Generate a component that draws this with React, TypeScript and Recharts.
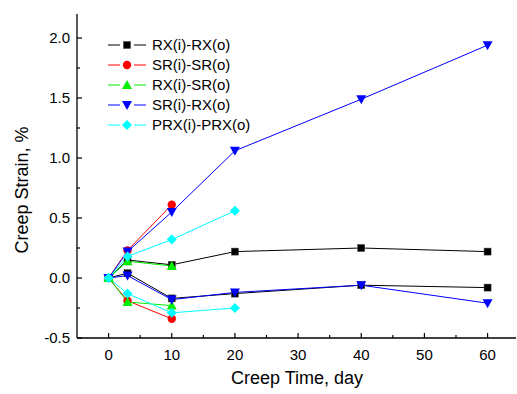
import { LineChart, Line, XAxis, YAxis } from "recharts";

const DAYS_ALL = [0, 3, 10, 20, 40, 60];
const DAYS_10 = [0, 3, 10];
const DAYS_20 = [0, 3, 10, 20];

const rxrxUp = [0, 0.15, 0.11, 0.22, 0.25, 0.22];
const rxrxDown = [0, 0.04, -0.17, -0.13, -0.06, -0.08];
const srsrUp = [0, 0.23, 0.61];
const srsrDown = [0, -0.19, -0.34];
const rxsrUp = [0, 0.14, 0.1];
const rxsrDown = [0, -0.2, -0.23];
const srrxUp = [0, 0.22, 0.55, 1.06, 1.49, 1.94];
const srrxDown = [0, 0.02, -0.18, -0.12, -0.06, -0.21];
const prxUp = [0, 0.18, 0.32, 0.56];
const prxDown = [0, -0.13, -0.29, -0.25];

const X_TICKS = [0, 5, 10, 15, 20, 25, 30, 35, 40, 45, 50, 55, 60];
const Y_TICKS = [-0.5, -0.25, 0, 0.25, 0.5, 0.75, 1, 1.25, 1.5, 1.75, 2];

const PLOT_LEFT = 77;
const PLOT_RIGHT = 516;
const PLOT_TOP = 14;
const PLOT_BOTTOM = 338;
const FONT = "'Liberation Sans', Arial, sans-serif";

const toPoints = (days: number[], vals: number[]) =>
  days.map((d, i) => ({ d, v: vals[i] }));

const series = [
  { name: "RX(i)-RX(o)", color: "#000000", shape: "square", up: toPoints(DAYS_ALL, rxrxUp), down: toPoints(DAYS_ALL, rxrxDown) },
  { name: "SR(i)-SR(o)", color: "#ff0000", shape: "circle", up: toPoints(DAYS_10, srsrUp), down: toPoints(DAYS_10, srsrDown) },
  { name: "RX(i)-SR(o)", color: "#00ee00", shape: "triUp", up: toPoints(DAYS_10, rxsrUp), down: toPoints(DAYS_10, rxsrDown) },
  { name: "SR(i)-RX(o)", color: "#0000ff", shape: "triDown", up: toPoints(DAYS_ALL, srrxUp), down: toPoints(DAYS_ALL, srrxDown) },
  { name: "PRX(i)-PRX(o)", color: "#00ffff", shape: "diamond", up: toPoints(DAYS_20, prxUp), down: toPoints(DAYS_20, prxDown) },
];

const Marker = ({ shape, color, cx, cy }: any) => {
  if (cx == null || cy == null) return null;
  if (shape === "square")
    return <rect x={cx - 3.5} y={cy - 3.5} width={7} height={7} fill={color} stroke="#444" strokeWidth={0.5} />;
  if (shape === "circle") return <circle cx={cx} cy={cy} r={4.2} fill={color} />;
  if (shape === "triUp")
    return <polygon points={`${cx},${cy - 5} ${cx - 5},${cy + 4} ${cx + 5},${cy + 4}`} fill={color} />;
  if (shape === "triDown")
    return <polygon points={`${cx},${cy + 5} ${cx - 5},${cy - 4} ${cx + 5},${cy - 4}`} fill={color} />;
  return <polygon points={`${cx},${cy - 5} ${cx + 5},${cy} ${cx},${cy + 5} ${cx - 5},${cy}`} fill={color} />;
};

const BottomTick = ({ x, payload }: any) => {
  const major = payload.value % 10 === 0;
  return (
    <g>
      <line x1={x} x2={x} y1={PLOT_BOTTOM} y2={PLOT_BOTTOM - (major ? 5 : 3)} stroke="#000" strokeWidth={1.2} />
      {major && (
        <text x={x} y={PLOT_BOTTOM + 22} textAnchor="middle" fontSize={15} fontFamily={FONT} fill="#000">
          {payload.value}
        </text>
      )}
    </g>
  );
};

const TopTick = ({ x, payload }: any) => {
  const major = payload.value % 10 === 0;
  return <line x1={x} x2={x} y1={PLOT_TOP} y2={PLOT_TOP + (major ? 5 : 3)} stroke="#000" strokeWidth={1.2} />;
};

const LeftTick = ({ y, payload }: any) => {
  const major = Math.abs((payload.value * 2) % 1) < 1e-6;
  return (
    <g>
      <line x1={PLOT_LEFT} x2={PLOT_LEFT + (major ? 5 : 3)} y1={y} y2={y} stroke="#000" strokeWidth={1.2} />
      {major && (
        <text x={70} y={y + 5} textAnchor="end" fontSize={15} fontFamily={FONT} fill="#000">
          {payload.value.toFixed(1)}
        </text>
      )}
    </g>
  );
};

const RightTick = ({ y, payload }: any) => {
  const major = Math.abs((payload.value * 2) % 1) < 1e-6;
  return <line x1={PLOT_RIGHT} x2={PLOT_RIGHT - (major ? 5 : 3)} y1={y} y2={y} stroke="#000" strokeWidth={1.2} />;
};

const LegendBox = () => (
  <svg width={160} height={110} style={{ position: "absolute", left: 100, top: 33 }}>
    {series.map((s, i) => {
      const cy = 12 + i * 20;
      return (
        <g key={s.name}>
          <line x1={8} x2={20} y1={cy} y2={cy} stroke={s.color} strokeWidth={1} />
          <line x1={34} x2={46} y1={cy} y2={cy} stroke={s.color} strokeWidth={1} />
          <Marker shape={s.shape} color={s.color} cx={27} cy={cy} />
          <text x={52} y={cy + 5} fontSize={15} fontFamily={FONT} fill="#000">
            {s.name}
          </text>
        </g>
      );
    })}
  </svg>
);

export default function App() {
  return (
    <div style={{ position: "absolute", left: 0, top: 0, width: 517, height: 394, background: "#fff" }}>
      <LineChart width={517} height={394} margin={{ top: PLOT_TOP, right: 1, bottom: 0, left: 0 }}>
        <XAxis
          dataKey="d"
          type="number"
          domain={[-5, 64.5]}
          ticks={X_TICKS}
          interval={0}
          height={56}
          tickLine={false}
          tick={<BottomTick />}
          axisLine={{ stroke: "#000", strokeWidth: 1.3 }}
          allowDataOverflow
        />
        <XAxis
          xAxisId="top"
          orientation="top"
          dataKey="d"
          type="number"
          domain={[-5, 64.5]}
          ticks={X_TICKS}
          interval={0}
          height={0}
          tickLine={false}
          tick={<TopTick />}
          axisLine={{ stroke: "#000", strokeWidth: 1.3 }}
          allowDataOverflow
        />
        <YAxis
          type="number"
          domain={[-0.5, 2.2]}
          ticks={Y_TICKS}
          interval={0}
          width={77}
          tickLine={false}
          tick={<LeftTick />}
          axisLine={{ stroke: "#000", strokeWidth: 1.3 }}
          allowDataOverflow
        />
        <YAxis
          yAxisId="right"
          orientation="right"
          type="number"
          domain={[-0.5, 2.2]}
          ticks={Y_TICKS}
          interval={0}
          width={0}
          tickLine={false}
          tick={<RightTick />}
          axisLine={{ stroke: "#000", strokeWidth: 1.3 }}
          allowDataOverflow
        />
        {series.flatMap((s) =>
          [s.up, s.down].map((pts, j) => (
            <Line
              key={`${s.name}-${j}`}
              data={pts}
              dataKey="v"
              type="linear"
              stroke={s.color}
              strokeWidth={1}
              dot={(p: any) => <Marker key={`${s.name}-${j}-${p.index}`} shape={s.shape} color={s.color} cx={p.cx} cy={p.cy} />}
              activeDot={false}
              isAnimationActive={false}
            />
          ))
        )}
      </LineChart>
      <LegendBox />
      <div
        style={{
          position: "absolute",
          left: 22,
          top: 190,
          transform: "translate(-50%, -50%) rotate(-90deg)",
          fontSize: 18,
          fontFamily: FONT,
          whiteSpace: "nowrap",
        }}
      >
        Creep Strain, %
      </div>
      <div
        style={{
          position: "absolute",
          left: 297,
          top: 378,
          transform: "translate(-50%, -50%)",
          fontSize: 18,
          fontFamily: FONT,
          whiteSpace: "nowrap",
        }}
      >
        Creep Time, day
      </div>
    </div>
  );
}
